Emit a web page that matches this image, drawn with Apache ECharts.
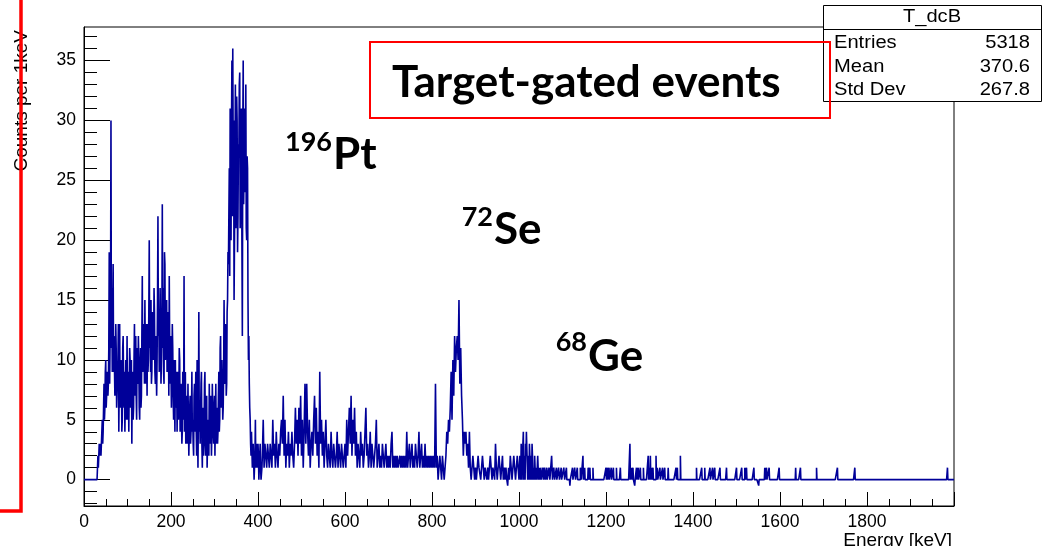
<!DOCTYPE html>
<html>
<head>
<meta charset="utf-8">
<title>T_dcB</title>
<script src="https://cdn.jsdelivr.net/npm/echarts@6/dist/echarts.min.js"></script>
<style>
  html, body { margin: 0; padding: 0; background: #fff; }
  #chart { width: 1046px; height: 546px; }
</style>
</head>
<body>
<div id="chart"></div>
<script>
// Histogram "T_dcB": gamma energy spectrum, counts per 1 keV bin.

// Low-energy part, 1 keV bins from 30 keV (one row = 20 keV).
const lowStart = 30;
const lowCounts = [
  0, 1, 2, 1, 2, 3, 2, 2, 3, 2, 3, 4, 5, 3, 4, 6, 8, 5, 6, 9,            // 30
  10, 6, 7, 9, 9, 7, 8, 11, 19, 8, 12, 14, 30, 11, 16, 9, 14, 18, 9, 12, // 50
  12, 7, 8, 13, 11, 6, 6, 9, 10, 13, 4, 8, 13, 6, 7, 10, 9, 4, 5, 11,    // 70
  12, 8, 6, 9, 4, 7, 10, 5, 7, 12, 5, 8, 9, 4, 8, 11, 10, 6, 7, 10,      // 90
  3, 9, 8, 5, 6, 10, 13, 7, 9, 12, 7, 5, 11, 9, 8, 12, 10, 6, 5, 9,      // 110
  11, 6, 7, 12, 17, 9, 9, 13, 12, 8, 15, 10, 8, 13, 11, 7, 13, 9, 10, 14,// 130
  20, 11, 12, 9, 15, 8, 9, 14, 13, 10, 11, 16, 14, 9, 8, 12, 12, 7, 10, 15, // 150
  22, 12, 14, 9, 9, 16, 12, 8, 10, 13, 23, 11, 16, 9, 8, 19, 18, 10, 11, 14, // 170
  15, 9, 10, 14, 13, 7, 17, 11, 8, 12, 12, 6, 9, 13, 11, 7, 5, 10, 8, 4, // 190
  10, 6, 6, 9, 4, 8, 9, 5, 7, 11, 10, 4, 5, 8, 8, 3, 4, 9, 7, 5,         // 210
  17, 4, 6, 9, 3, 5, 7, 3, 4, 8, 5, 2, 2, 6, 7, 3, 3, 5, 9, 4,           // 230
  5, 3, 2, 7, 8, 4, 6, 9, 4, 2, 10, 5, 1, 6, 14, 4, 6, 3, 3, 8,          // 250
  9, 3, 1, 5, 6, 2, 4, 8, 9, 3, 2, 6, 7, 1, 3, 5, 5, 2, 8, 4,            // 270
  3, 7, 6, 2, 4, 8, 8, 4, 3, 6, 7, 2, 5, 8, 3, 6, 6, 3, 4, 7,            // 290
  9, 4, 5, 11, 12, 6, 7, 10, 10, 5, 6, 9, 15, 8, 9, 13, 12, 7, 8, 14,    // 310
  15, 19, 18, 22, 26, 17, 31, 24, 20, 29, 35, 22, 36, 27, 30, 15, 15, 25, 33, 21, // 330
  25, 32, 30, 19, 22, 28, 27, 33, 34, 21, 24, 30, 31, 20, 12, 29, 35, 23, 26, 31, // 350
  29, 24, 33, 21, 20, 27, 26, 15, 10, 12, 8, 6, 5, 3, 2, 4, 4, 1, 1, 3,  // 370
  3, 0, 1, 2, 5, 1, 2, 3, 1, 2, 3, 2, 0, 1, 2, 3, 1, 0, 0, 1             // 390
];

// Middle part, 2 keV steps from 410 keV (one row = 20 keV).
const midStart = 410;
const midStep = 2;
const midCounts = [
  2, 5, 1, 3, 2, 1, 3, 2, 1, 3,          // 410
  2, 1, 5, 2, 3, 1, 4, 2, 1, 3,          // 430
  2, 4, 5, 3, 7, 2, 5, 1, 3, 2,          // 450
  4, 1, 3, 2, 4, 2, 1, 3, 6, 3,          // 470
  5, 2, 6, 3, 7, 2, 5, 1, 4, 8,          // 490
  3, 8, 4, 2, 5, 1, 3, 4, 2, 5,          // 510
  7, 3, 6, 2, 4, 1, 9, 3, 5, 2,          // 530
  4, 1, 3, 5, 2, 1, 3, 2, 1, 4,          // 550
  2, 1, 3, 2, 1, 2, 4, 1, 3, 2,          // 570
  1, 3, 2, 1, 2, 3, 1, 5, 2, 4,          // 590
  6, 3, 7, 2, 5, 3, 6, 2, 4, 1,          // 610
  3, 2, 1, 4, 2, 3, 1, 2, 4, 6,          // 630
  2, 3, 1, 2, 4, 1, 3, 2, 1, 2,          // 650
  3, 5, 1, 2, 3, 1, 2, 1, 3, 2,          // 670
  1, 2, 3, 1, 2, 1, 2, 1, 3, 4,          // 690
  1, 2, 1, 2, 1, 2, 1, 1, 2, 1,          // 710
  2, 1, 2, 1, 2, 1, 4, 1, 2, 3,          // 730
  1, 2, 3, 1, 2, 1, 3, 2, 1, 2,          // 750
  4, 1, 2, 3, 1, 2, 1, 3, 1, 2,          // 770
  1, 2, 1, 2, 1, 2, 1, 2, 1, 8,          // 790
  1, 2, 0, 1, 2, 1, 0, 2, 1, 0,          // 810
  1, 2, 4, 3, 5, 4, 6, 9, 5, 10,         // 830
  7, 12, 9, 11, 12, 10, 15, 8, 11, 7,    // 850
  5, 2, 4, 3, 4, 2, 3, 1, 4, 1,          // 870
  0, 1, 2, 1, 0, 1, 0, 1, 2, 1,          // 890
  1, 0, 1, 2, 1, 0, 1, 1, 0, 1,          // 910
  0, 1, 2, 1, 0, 1, 1, 0, 3, 1,          // 930
  0, 1, 2, 1, 0, 1, 2, 0, 1, 0,          // 950
  1, 0, -0.5, 1, 0, 2, 1, 0, 1, 2,       // 970
  1, 0, 1, 2, 1                          // 990
];

// High-energy tail: isolated 1 keV bins as [energy keV, counts]; all others are empty.
const tailCounts = [
  [1001, 1], [1002, 2], [1003, 2], [1005, 3], [1006, 1], [1008, 2], [1009, 2], [1010, 4],
  [1012, 2], [1013, 1], [1015, 3], [1016, 2], [1017, 4], [1018, 4], [1019, 4], [1021, 2],
  [1022, 1], [1024, 3], [1025, 2], [1027, 2], [1028, 1], [1030, 3], [1031, 2], [1033, 1],
  [1034, 1], [1036, 2], [1037, 1], [1039, 1], [1040, 1], [1043, 2], [1044, 1], [1046, 1],
  [1048, 1], [1050, 1], [1051, 1], [1055, 1], [1056, 1], [1059, 1], [1060, 1], [1064, 1],
  [1069, 1], [1070, 1], [1075, 2], [1076, 1], [1080, 1], [1081, 1], [1086, 1], [1091, 1],
  [1092, 1], [1097, 1], [1103, 1], [1104, 1], [1109, 1], [1117, -0.5], [1123, 1], [1128, 1],
  [1129, 1], [1134, 1], [1141, 1], [1142, 1], [1147, 2], [1151, 1], [1159, 1], [1160, 1],
  [1163, 1], [1170, 1], [1200, 1], [1203, 1], [1207, 1], [1212, 1], [1217, 1], [1224, 1],
  [1233, 1], [1255, 3], [1259, 1], [1262, 1], [1266, -0.5], [1270, 1], [1274, 1], [1279, 1],
  [1286, 1], [1297, 2], [1300, 1], [1302, 2], [1305, 1], [1308, 1], [1315, 2], [1318, 1],
  [1324, 1], [1330, 1], [1335, 1], [1343, 1], [1361, 1], [1364, 1], [1371, 2], [1408, 1],
  [1420, 1], [1427, 1], [1439, 1], [1445, 1], [1450, 1], [1462, 1], [1477, 1], [1500, 1],
  [1512, 1], [1519, 1], [1523, 1], [1540, 1], [1551, -0.5], [1565, 1], [1569, 1], [1575, 1],
  [1598, 1], [1636, 1], [1647, 1], [1684, 1], [1732, 1], [1772, 1], [1985, 1]
];

// Axis ticks
const xRange = [0, 2000];
const yRange = [-2.2, 37.8];
const yMajorTicks = [0, 5, 10, 15, 20, 25, 30, 35];
const yMinorTicks = [-2, -1, 1, 2, 3, 4, 6, 7, 8, 9, 11, 12, 13, 14, 16, 17, 18, 19,
  21, 22, 23, 24, 26, 27, 28, 29, 31, 32, 33, 34, 36, 37];

// Statistics box
const statsTitle = 'T_dcB';
const statsRows = [['Entries', '5318'], ['Mean', '370.6'], ['Std Dev', '267.8']];

// Annotations
const headline = 'Target-gated events';
const isotopes = [['196', 'Pt'], ['72', 'Se'], ['68', 'Ge']];
const xTitle = 'Energy [keV]';
const yTitle = 'Counts per 1keV';

// Build the 1 keV histogram contents
const nBins = xRange[1] - xRange[0];
const counts = new Array(nBins).fill(0);
lowCounts.forEach((v, i) => { counts[lowStart + i] = v; });
midCounts.forEach((v, i) => {
  const e0 = midStart + i * midStep;
  for (let k = 0; k < midStep; k++) counts[e0 + k] = v;
});
tailCounts.forEach(([e, v]) => { counts[e] = v; });
const points = counts.map((v, i) => [xRange[0] + i, v]);
points.push([xRange[1], counts[nBins - 1]]);

const axisFont = "'Liberation Sans', Arial, Helvetica, sans-serif";
const noteFont = "Lato, 'Open Sans', sans-serif";
const red = '#ff0000';

function textStyle(str, family, size, align, vAlign, bold) {
  return { text: str, fill: '#000', fontFamily: family, fontSize: size, fontWeight: bold ? 'bold' : 'normal',
           align: align, textAlign: align, verticalAlign: vAlign, textVerticalAlign: vAlign };
}

function supLabel(idx, supX, supY, mainY) {
  const [mass, sym] = isotopes[idx];
  return {
    type: 'group', z: 50,
    children: [
      { type: 'text', x: supX, y: supY, style: textStyle(mass, noteFont, 27, 'right', 'middle', true) },
      { type: 'text', x: supX + 1, y: mainY, style: textStyle(sym, noteFont, 44, 'left', 'middle', true) }
    ]
  };
}

function statText(str, x, y, align) {
  return { type: 'text', x: x, y: y, scaleX: 1.15, z: 60,
           style: textStyle(str, axisFont, 17.5, align, 'middle', false) };
}

const statsGraphics = [
  { type: 'rect', z: 55, shape: { x: 823.5, y: 5.5, width: 218, height: 96 },
    style: { fill: '#fff', stroke: '#000', lineWidth: 1 } },
  { type: 'line', z: 56, shape: { x1: 823.5, y1: 29.5, x2: 1041.5, y2: 29.5 },
    style: { stroke: '#000', lineWidth: 1 } },
  statText(statsTitle, 932, 17.5, 'center')
];
statsRows.forEach(([k, v], i) => {
  const y = 43 + i * 23.8;
  statsGraphics.push(statText(k, 834, y, 'left'));
  statsGraphics.push(statText(v, 1030, y, 'right'));
});

const chart = echarts.init(document.getElementById('chart'), null, { renderer: 'canvas' });
chart.setOption({
  animation: false,
  backgroundColor: '#fff',
  grid: { left: 84, right: 92, top: 27, bottom: 40, show: true, borderColor: '#000', borderWidth: 1,
          backgroundColor: 'transparent', containLabel: false, outerBoundsMode: 'none' },
  xAxis: {
    type: 'value', min: xRange[0], max: xRange[1], interval: 200,
    axisLine: { onZero: false, lineStyle: { color: '#000', width: 1 } },
    axisTick: { inside: true, length: 14, lineStyle: { color: '#000' } },
    minorTick: { show: true, splitNumber: 4, length: 7, lineStyle: { color: '#000' } },
    splitLine: { show: false },
    axisLabel: { color: '#000', fontFamily: axisFont, fontSize: 17.5, margin: 7, showMaxLabel: false,
                 formatter: v => (v >= xRange[1] ? '' : String(v)) }
  },
  yAxis: [
    {
      type: 'value', min: yRange[0], max: yRange[1],
      axisLine: { show: true, lineStyle: { color: '#000', width: 1 } },
      axisTick: { show: true, inside: true, length: 26, customValues: yMajorTicks, lineStyle: { color: '#000' } },
      axisLabel: { color: '#000', fontFamily: axisFont, fontSize: 17.5, margin: 8, customValues: yMajorTicks },
      splitLine: { show: false }
    },
    {
      type: 'value', min: yRange[0], max: yRange[1], position: 'left',
      axisLine: { show: false },
      axisTick: { show: true, inside: true, length: 13, customValues: yMinorTicks, lineStyle: { color: '#000' } },
      axisLabel: { show: false },
      splitLine: { show: false }
    }
  ],
  series: [{
    type: 'line', step: 'end', data: points, showSymbol: false, symbol: 'none',
    xAxisIndex: 0, yAxisIndex: 0, sampling: null,
    lineStyle: { color: '#000099', width: 1.6 }, z: 3
  }],
  graphic: [
    { type: 'text', x: 952, y: 531, z: 40, style: textStyle(xTitle, axisFont, 19, 'right', 'top', false) },
    { type: 'text', x: 22, y: 30, rotation: Math.PI / 2, z: 40,
      style: textStyle(yTitle, axisFont, 19, 'right', 'middle', false) },
    { type: 'polyline', z: 70, shape: { points: [[21, -2], [21, 511], [-2, 511]] },
      style: { stroke: red, lineWidth: 3.5, fill: null } },
    ...statsGraphics,
    { type: 'rect', z: 70, shape: { x: 370, y: 42, width: 460, height: 76 },
      style: { fill: null, stroke: red, lineWidth: 2 } },
    { type: 'text', x: 392, y: 83, z: 50, style: textStyle(headline, noteFont, 44, 'left', 'middle', true) },
    supLabel(0, 332, 142, 155),
    supLabel(1, 493, 217, 230),
    supLabel(2, 587, 342, 357)
  ]
});
</script>
</body>
</html>
